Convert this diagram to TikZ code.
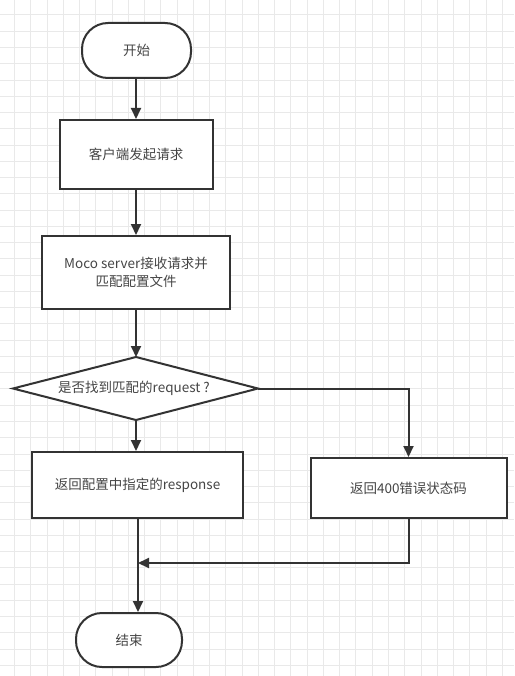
\documentclass[tikz,border=0pt]{standalone}
\usepackage{fontspec}
\setmainfont{Noto Sans CJK SC}
\usetikzlibrary{arrows.meta}
\definecolor{lineC}{HTML}{333333}
\definecolor{textC}{HTML}{454545}
\definecolor{gridC}{HTML}{E9E9E9}
\begin{document}
\begin{tikzpicture}[x=1pt,y=-1pt,
  every node/.style={font=\fontsize{13.5}{18.5}\selectfont, text=textC},
  boxstyle/.style={draw=lineC, line width=2pt, fill=white, inner sep=0pt, align=center},
  termstyle/.style={boxstyle, rounded corners=26pt},
  conn/.style={draw=lineC, line width=2pt, -{Triangle[length=11pt,width=10pt]}},
  plainconn/.style={draw=lineC, line width=2pt}]
\useasboundingbox (0,0) rectangle (514,676);
\fill[white] (0,0) rectangle (514,676);
\foreach \i in {0,...,31} {\draw[gridC, line width=1pt] (14.5+16.26*\i,0) -- (14.5+16.26*\i,676);}
\foreach \i in {0,...,40} {\draw[gridC, line width=1pt] (0,15+16.26*\i) -- (514,15+16.26*\i);}

\node[termstyle, minimum width=109pt, minimum height=55pt] (start) at (136.5,50.5) {开始};
\node[boxstyle, minimum width=153pt, minimum height=69pt] (req) at (136,154.5) {客户端发起请求};
\node[boxstyle, minimum width=188pt, minimum height=73pt] (moco) at (136,272.5) {Moco server接收请求并\\匹配配置文件};
\coordinate (dT) at (136,357);
\coordinate (dB) at (136,420);
\coordinate (dL) at (13,388.5);
\coordinate (dR) at (258,388.5);
\draw[draw=lineC, line width=2pt, fill=white, line join=miter] (dT) -- (dR) -- (dB) -- (dL) -- cycle;
\node (dec) at (134,388.5) {是否找到匹配的request ?};
\node[boxstyle, minimum width=211pt, minimum height=66pt] (resp) at (137.5,485) {返回配置中指定的response};
\node[boxstyle, minimum width=196pt, minimum height=60pt] (err) at (408.5,488) {返回400错误状态码};
\node[termstyle, minimum width=106pt, minimum height=54pt] (end) at (129,640) {结束};
\coordinate (merge) at (138,563);

\draw[conn] (start.south -| 136,0) -- (req.north -| 136,0);
\draw[conn] (req.south -| 136,0) -- (moco.north -| 136,0);
\draw[conn] (moco.south -| 136,0) -- (dT);
\draw[conn] (dB) -- (resp.north -| dB);
\draw[conn] (dR) -- (err.north |- dR) -- (err.north);
\draw[conn] (err.south) -- (err.south |- merge) -- (merge);
\draw[conn] (resp.south -| merge) -- (end.north -| merge);
\end{tikzpicture}
\end{document}
